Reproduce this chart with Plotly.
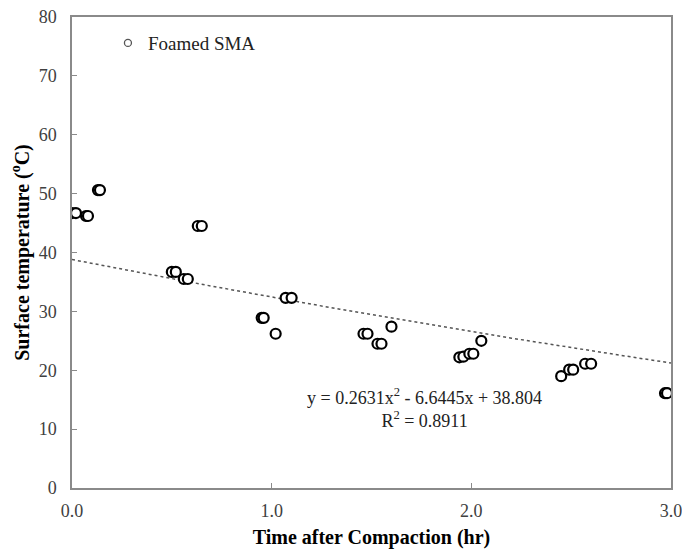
import numpy as np
import plotly.graph_objects as go

# Measured surface temperature after compaction (foamed SMA)
time_hr = [0.00, 0.02, 0.07, 0.08, 0.13, 0.14, 0.50, 0.52, 0.56, 0.58,
           0.63, 0.65, 0.95, 0.96, 1.02, 1.07, 1.10, 1.46, 1.48, 1.53,
           1.55, 1.60, 1.94, 1.96, 1.99, 2.01, 2.05, 2.45, 2.49, 2.51,
           2.57, 2.60, 2.97, 2.98]
temp_c = [46.7, 46.7, 46.2, 46.2, 50.6, 50.6, 36.7, 36.7, 35.5, 35.5,
          44.5, 44.5, 28.9, 28.9, 26.2, 32.3, 32.3, 26.2, 26.2, 24.5,
          24.5, 27.4, 22.2, 22.3, 22.8, 22.8, 25.0, 19.0, 20.1, 20.1,
          21.1, 21.1, 16.1, 16.1]

# Polynomial trendline coefficients (a*x^2 + b*x + c) and fit quality
trend_coef = [0.2631, -6.6445, 38.804]
r_squared = 0.8911

x_range = [0, 3]
y_range = [0, 80]
x_ticks = [0, 1, 2, 3]
x_tick_text = ["0.0", "1.0", "2.0", "3.0"]
y_ticks = [0, 10, 20, 30, 40, 50, 60, 70, 80]

serif = "Liberation Serif, Times New Roman, serif"

xt = np.linspace(x_range[0], x_range[1], 200)
yt = np.polyval(trend_coef, xt)

fig = go.Figure()

fig.add_trace(go.Scatter(
    x=xt, y=yt, mode="lines",
    line=dict(color="#555555", width=1.5, dash="dot"),
    showlegend=False, hoverinfo="skip",
))

fig.add_trace(go.Scatter(
    x=time_hr, y=temp_c, mode="markers",
    marker=dict(symbol="circle", size=10, color="white",
                line=dict(color="black", width=2.2)),
    showlegend=False, name="Foamed SMA",
))

# legend entry
fig.add_trace(go.Scatter(
    x=[None], y=[None], mode="markers", name="Foamed SMA",
    marker=dict(symbol="circle", size=7, color="white",
                line=dict(color="#555555", width=1.3)),
    showlegend=True,
))

eq_text = (f"y = {trend_coef[0]:.4f}x<sup>2</sup> - {abs(trend_coef[1]):.4f}x"
           f" + {trend_coef[2]:.3f}<br>R<sup>2</sup> = {r_squared:.4f}")
fig.add_annotation(x=0.589, y=0.170, xref="paper", yref="paper",
                   xanchor="center", yanchor="middle",
                   text=eq_text, showarrow=False, align="center",
                   font=dict(family=serif, size=18, color="#222222"))

axis_common = dict(
    showgrid=False, zeroline=False, automargin=False,
    showline=True, linecolor="#8a8a8a", linewidth=1.5, mirror=True,
    ticks="inside", ticklen=5, tickcolor="#8a8a8a", tickwidth=1,
    ticklabeloverflow="allow",
    tickfont=dict(family=serif, size=18, color="#404040"),
)

fig.update_xaxes(
    range=x_range, tickvals=x_ticks, ticktext=x_tick_text,
    ticklabelstandoff=6,
    title=dict(text="<b>Time after Compaction (hr)</b>", standoff=10,
               font=dict(family=serif, size=20, color="black")),
    **axis_common,
)
fig.update_yaxes(
    range=y_range, tickvals=y_ticks,
    ticklabelstandoff=10,
    title=dict(text="<b>Surface temperature (<sup>o</sup>C)</b>", standoff=4,
               font=dict(family=serif, size=20, color="black")),
    **axis_common,
)

fig.update_layout(
    width=682, height=551,
    margin=dict(l=72, r=11, t=17, b=63),
    font=dict(family=serif, color="#222222"),
    plot_bgcolor="white", paper_bgcolor="white",
    legend=dict(x=0.06, y=0.985, xanchor="left", yanchor="top",
                bgcolor="rgba(0,0,0,0)", itemwidth=30,
                font=dict(family=serif, size=19, color="#222222"),
                tracegroupgap=0),
)

fig.write_html("out.html")
